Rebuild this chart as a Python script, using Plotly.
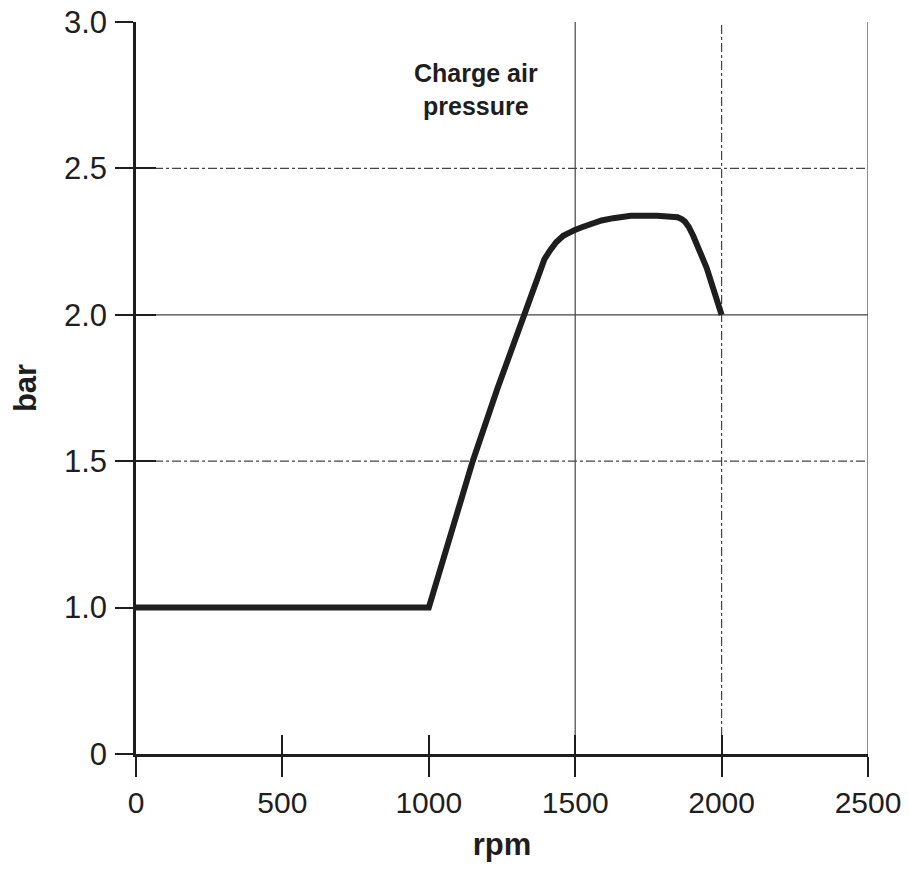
import plotly.graph_objects as go

# Data
rpm = [0, 1000, 1075, 1150, 1235, 1300, 1323, 1340, 1357, 1370, 1380, 1395,
       1414, 1435, 1459, 1480, 1499, 1525, 1550, 1590, 1630, 1690, 1780,
       1830, 1850, 1865, 1875, 1888, 1903, 1949, 2000]
bar = [1.0, 1.0, 1.25, 1.5, 1.75, 1.93, 2.0, 2.05, 2.096, 2.135, 2.16, 2.19,
       2.22, 2.248, 2.27, 2.282, 2.29, 2.30, 2.31, 2.322, 2.33, 2.338, 2.338,
       2.336, 2.333, 2.326, 2.318, 2.30, 2.27, 2.16, 2.0]

x_tickvals = [0, 500, 1000, 1500, 2000, 2500]
x_ticktext = ["0", "500", "1000", "1500", "2000", "2500"]
# axis is broken: bottom tick labelled "0" sits one step below 1.0
y_tickvals = [0.5, 1.0, 1.5, 2.0, 2.5, 3.0]
y_ticktext = ["0", "1.0", "1.5", "2.0", "2.5", "3.0"]

solid_grid_x = [1500, 2500]
dashdot_grid_x = [2000]
solid_grid_y = [2.0]
dashdot_grid_y = [1.5, 2.5]

ink = "#1e1e1e"
grid = "#444444"
font_family = "Liberation Sans, Arial, sans-serif"

fig = go.Figure()
fig.add_trace(go.Scatter(x=rpm, y=bar, mode="lines",
                         line=dict(color=ink, width=6),
                         showlegend=False, hoverinfo="skip"))
# dummy trace to render the overlay axes (inside half of crossing ticks)
fig.add_trace(go.Scatter(x=[None], y=[None], xaxis="x2", yaxis="y2",
                         showlegend=False, hoverinfo="skip"))

shapes = []
for v in solid_grid_x:
    shapes.append(dict(type="line", xref="x", yref="paper", x0=v, x1=v, y0=0, y1=1,
                       line=dict(color=grid, width=1.2), layer="below"))
for v in dashdot_grid_x:
    shapes.append(dict(type="line", xref="x", yref="paper", x0=v, x1=v, y0=0, y1=1,
                       line=dict(color=grid, width=1.2, dash="dashdot"), layer="below"))
for v in solid_grid_y:
    shapes.append(dict(type="line", xref="paper", yref="y", x0=0, x1=1, y0=v, y1=v,
                       line=dict(color=grid, width=1.2), layer="below"))
for v in dashdot_grid_y:
    shapes.append(dict(type="line", xref="paper", yref="y", x0=0, x1=1, y0=v, y1=v,
                       line=dict(color=grid, width=1.2, dash="dashdot"), layer="below"))

common_x = dict(range=[0, 2500], tickmode="array", tickvals=x_tickvals,
                showgrid=False, zeroline=False, fixedrange=True, automargin=False)
common_y = dict(range=[0.5, 3.0], tickmode="array", tickvals=y_tickvals,
                showgrid=False, zeroline=False, fixedrange=True, automargin=False)

# page body has an 8px default margin; figure is sized to fit the window
fig.update_layout(
    width=893, height=854,
    margin=dict(l=128, r=33, t=14, b=108, autoexpand=False),
    paper_bgcolor="white", plot_bgcolor="white",
    font=dict(family=font_family, color=ink),
    shapes=shapes,
    xaxis=dict(**common_x, ticktext=x_ticktext, ticks="outside", ticklen=20,
               tickwidth=2, tickcolor=ink, showline=True, linewidth=2.5,
               linecolor=ink, tickfont=dict(size=30, color=ink),
               ticklabeloverflow="allow",
               title=dict(text="<b>rpm</b>", font=dict(size=31, color=ink),
                          standoff=31)),
    yaxis=dict(**common_y, ticktext=y_ticktext, ticks="outside", ticklen=18,
               tickwidth=2, tickcolor=ink, showline=True, linewidth=2.5,
               linecolor=ink, tickfont=dict(size=31, color=ink),
               ticklabelstandoff=2, ticklabeloverflow="allow",
               title=dict(text="<b>bar</b>", font=dict(size=31, color=ink),
                          standoff=28)),
    xaxis2=dict(**common_x, overlaying="x", anchor="y2", side="bottom",
                ticks="inside", ticklen=19, tickwidth=2, tickcolor=ink,
                showticklabels=False, showline=False),
    yaxis2=dict(**common_y, overlaying="y", anchor="x2", side="left",
                ticks="inside", ticklen=20, tickwidth=2, tickcolor=ink,
                showticklabels=False, showline=False),
    annotations=[dict(x=1160, y=2.77, xref="x", yref="y",
                      text="<b>Charge air<br>pressure</b>", showarrow=False,
                      font=dict(size=25, color=ink), align="center")],
)

fig.write_html("out.html")
